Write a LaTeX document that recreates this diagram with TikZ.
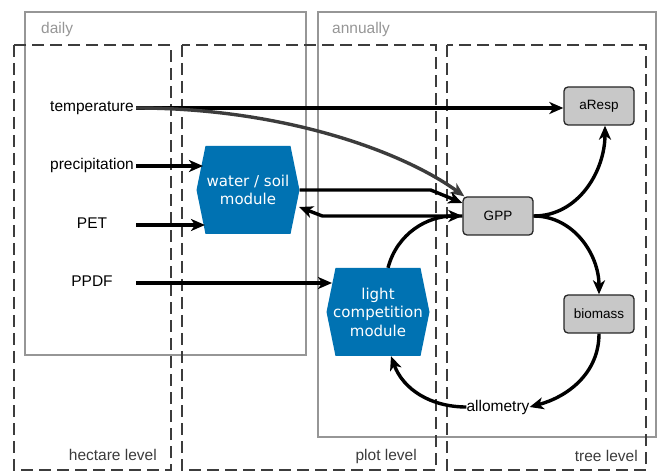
\documentclass[tikz,border=0pt]{standalone}
\usepackage{fontspec}
\setmainfont{Liberation Sans}
\newfontfamily\modfont{DejaVu Sans}
\usetikzlibrary{arrows.meta,calc}
\definecolor{modblue}{RGB}{0,114,178}
\definecolor{boxgray}{RGB}{150,150,150}
\definecolor{dashgray}{RGB}{60,60,60}
\definecolor{nodegray}{RGB}{200,200,200}
\begin{document}
\begin{tikzpicture}[x=1pt,y=-1pt,
  every node/.style={inner sep=0pt},
  timebox/.style={draw=boxgray,line width=2.5pt},
  levelbox/.style={draw=dashgray,line width=2.6pt,dash pattern=on 12pt off 6pt},
  timelabel/.style={text=boxgray,font=\fontsize{15.5}{18}\selectfont,anchor=west},
  levellabel/.style={text=dashgray,font=\fontsize{15.5}{18}\selectfont,anchor=east},
  inputlabel/.style={font=\fontsize{15.5}{18}\selectfont,minimum width=88pt,
    text height=11pt,text depth=3.3pt},
  state/.style={draw=black!85,fill=nodegray,rounded corners=4pt,line width=1.3pt,
    minimum width=70pt,minimum height=38pt,font=\fontsize{13.5}{16}\selectfont},
  module/.style={minimum width=103pt,minimum height=88pt,align=center,text=white,
    font=\modfont\fontsize{15}{18.5}\selectfont,
    path picture={\fill[modblue] (path picture bounding box.west)
      -- ($(path picture bounding box.north west)+(9,0)$)
      -- ($(path picture bounding box.north east)+(-9,0)$)
      -- (path picture bounding box.east)
      -- ($(path picture bounding box.south east)+(-9,0)$)
      -- ($(path picture bounding box.south west)+(9,0)$) -- cycle;}},
  flow/.style={-{Stealth[length=14pt,width=12pt,inset=4pt]},line width=3.4pt,black},
]
\useasboundingbox (0,0) rectangle (662,473);

% time frames
\draw[timebox] (25,12) rectangle (306,355);
\draw[timebox] (318,12) rectangle (656,437);
\node[timelabel] (daily) at (41,29) {daily};
\node[timelabel] (annual) at (332,29) {annually};

% levels
\draw[levelbox] (14,45) rectangle (171,470);
\draw[levelbox] (182,45) rectangle (436,470);
\draw[levelbox] (447,45) rectangle (646,470);
\node[levellabel] (hect) at (157,455) {hectare level};
\node[levellabel] (plotl) at (417,456) {plot level};
\node[levellabel] (treel) at (638,456) {tree level};

% nodes
\node[inputlabel] (temp) at (92,108) {temperature};
\node[inputlabel] (prec) at (92,166) {precipitation};
\node[inputlabel] (pet) at (92,225) {PET};
\node[inputlabel] (ppdf) at (92,283) {PPDF};

\node[module] (wsm) at (248,190) {water / soil\\module};
\node[module] (lcm) at (378,312) {light\\competition\\module};

\node[state] (aresp) at (599,106) {aResp};
\node[state] (gpp) at (498,216) {GPP};
\node[state] (biomass) at (599,314) {biomass};
\node[font=\fontsize{15.5}{18}\selectfont] (allo) at (498,407) {allometry};

\coordinate (wsmA) at (203,166);
\coordinate (wsmB) at (205,225);
\coordinate (wsmC) at (299,207);
\coordinate (lcmA) at (332,283);

% connectors
\draw[flow] (temp.east) -- (aresp.west |- temp.east);
\draw[flow,draw=dashgray] (temp.east) .. controls (280,108) and (400,150) .. ($(gpp.north west)+(2,0)$);
\draw[flow] (prec.east) -- (wsmA);
\draw[flow] (pet.east) -- (wsmB);
\draw[flow] (wsm.east) -- ++(131,0) -- ([yshift=13pt]gpp.west);
\draw[flow] (gpp.west) -- ++(-140,0) -- (wsmC);
\draw[flow] (ppdf.east) -- (lcmA);
\draw[flow] ([xshift=10pt]lcm.north) to[out=75,in=180] (gpp.west);
\draw[flow] (gpp.east) to[out=0,in=-90] ([xshift=6pt]aresp.south);
\draw[flow] (gpp.east) to[out=0,in=90] (biomass.north);
\draw[flow] (biomass.south) to[out=-90,in=15] (allo.east);
\draw[flow] (allo.west) to[out=180,in=-70] ([xshift=13pt]lcm.south);
\end{tikzpicture}
\end{document}
